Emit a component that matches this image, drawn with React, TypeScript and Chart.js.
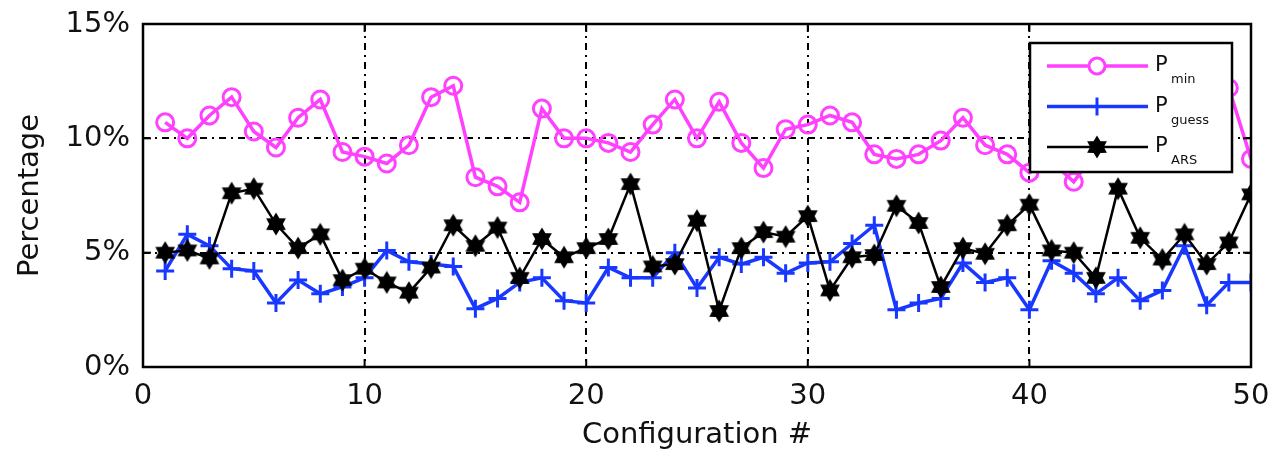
import React, { useEffect, useRef } from "react";
import { Chart, registerables } from "chart.js";

Chart.register(...registerables);

// ---- data ----
const configs = [
  1, 2, 3, 4, 5, 6, 7, 8, 9, 10,
  11, 12, 13, 14, 15, 16, 17, 18, 19, 20,
  21, 22, 23, 24, 25, 26, 27, 28, 29, 30,
  31, 32, 33, 34, 35, 36, 37, 38, 39, 40,
  41, 42, 43, 44, 45, 46, 47, 48, 49, 50,
];
const pMin = [
  10.7, 10.0, 11.0, 11.8, 10.3, 9.6, 10.9, 11.7, 9.4, 9.2,
  8.9, 9.7, 11.8, 12.3, 8.3, 7.9, 7.2, 11.3, 10.0, 10.0,
  9.8, 9.4, 10.6, 11.7, 10.0, 11.6, 9.8, 8.7, 10.4, 10.6,
  11.0, 10.7, 9.3, 9.1, 9.3, 9.9, 10.9, 9.7, 9.3, 8.5,
  9.0, 8.1, 9.4, 10.2, 9.6, 10.4, 9.8, 10.9, 12.2, 9.1,
];
const pGuess = [
  4.2, 5.8, 5.3, 4.3, 4.2, 2.8, 3.8, 3.2, 3.5, 3.9,
  5.1, 4.6, 4.5, 4.4, 2.55, 3.0, 3.7, 3.9, 2.9, 2.8,
  4.35, 3.9, 3.9, 5.0, 3.45, 4.8, 4.5, 4.8, 4.1, 4.55,
  4.6, 5.4, 6.2, 2.5, 2.8, 3.0, 4.55, 3.7, 3.9, 2.5,
  4.65, 4.1, 3.2, 3.9, 2.9, 3.35, 5.3, 2.7, 3.7, 3.7,
];
const pArs = [
  5.0, 5.1, 4.75, 7.6, 7.8, 6.25, 5.2, 5.8, 3.8, 4.3,
  3.7, 3.25, 4.35, 6.2, 5.3, 6.1, 3.9, 5.6, 4.8, 5.2,
  5.6, 8.0, 4.4, 4.5, 6.4, 2.45, 5.2, 5.9, 5.7, 6.6,
  3.35, 4.8, 4.9, 7.05, 6.3, 3.5, 5.2, 4.95, 6.2, 7.1,
  5.1, 5.0, 3.9, 7.8, 5.65, 4.7, 5.8, 4.5, 5.45, 7.55,
];
const xTicks = [0, 10, 20, 30, 40, 50];
const yTicks = [0, 5, 10, 15];
const legendMain = "P";
const legendSubs = ["min", "guess", "ARS"];
const xTitle = "Configuration #";
const yTitle = "Percentage";

// ---- styles ----
const MAGENTA = "rgb(255,64,255)";
const BLUE = "rgb(24,56,255)";
const BLACK = "#000";
const TEXT = "#111";
const FONT = "'DejaVu Sans', 'Liberation Sans', sans-serif";

function makeHexagram(r: number, ri: number, color: string): HTMLCanvasElement {
  const size = Math.ceil(r * 2 + 4);
  const c = document.createElement("canvas");
  c.width = size;
  c.height = size;
  const ctx = c.getContext("2d")!;
  ctx.translate(size / 2, size / 2);
  ctx.beginPath();
  for (let k = 0; k < 12; k++) {
    const a = -Math.PI / 2 + (k * Math.PI) / 6;
    const rr = k % 2 === 0 ? r : ri;
    ctx.lineTo(rr * Math.cos(a), rr * Math.sin(a));
  }
  ctx.closePath();
  ctx.fillStyle = color;
  ctx.fill();
  ctx.strokeStyle = color;
  ctx.lineWidth = 1.5;
  ctx.stroke();
  return c;
}

export default function App() {
  const ref = useRef<HTMLCanvasElement | null>(null);

  useEffect(() => {
    if (!ref.current) return;
    const hex = makeHexagram(10, 6, BLACK);

    const framePlugin = {
      id: "matlabFrame",
      afterDatasetsDraw(chart: any) {
        const { ctx, chartArea, scales } = chart;
        const { left, right, top, bottom } = chartArea;
        const x = scales.x;
        const y = scales.y;
        ctx.save();
        ctx.setLineDash([]);
        ctx.strokeStyle = BLACK;
        ctx.lineWidth = 2.5;
        ctx.strokeRect(left, top, right - left, bottom - top);
        const seg = (a: number, b: number, c: number, d: number) => {
          ctx.beginPath();
          ctx.moveTo(a, b);
          ctx.lineTo(c, d);
          ctx.stroke();
        };
        ctx.lineWidth = 2;
        for (const v of xTicks) {
          const px = x.getPixelForValue(v);
          seg(px, bottom, px, bottom - 8);
          seg(px, top, px, top + 8);
        }
        for (const v of yTicks) {
          const py = y.getPixelForValue(v);
          seg(left, py, left + 8, py);
          seg(right, py, right - 8, py);
        }

        // legend box
        const bw = 202;
        const bh = 129;
        const bx0 = right - 19 - bw;
        const by0 = top + 19;
        ctx.fillStyle = "#fff";
        ctx.fillRect(bx0, by0, bw, bh);
        ctx.lineWidth = 2.5;
        ctx.strokeStyle = BLACK;
        ctx.strokeRect(bx0, by0, bw, bh);

        const colors = [MAGENTA, BLUE, BLACK];
        const widths = [3.5, 3.5, 2.5];
        for (let i = 0; i < 3; i++) {
          const ry = by0 + 23 + i * 40.5;
          const lx0 = bx0 + 17;
          const lx1 = bx0 + 118;
          const mx = bx0 + 67;
          ctx.strokeStyle = colors[i];
          ctx.lineWidth = widths[i];
          seg(lx0, ry, lx1, ry);
          if (i === 0) {
            ctx.lineWidth = 3;
            ctx.beginPath();
            ctx.arc(mx, ry, 8, 0, Math.PI * 2);
            ctx.fillStyle = "#fff";
            ctx.fill();
            ctx.stroke();
          } else if (i === 1) {
            ctx.lineWidth = 3;
            seg(mx - 9, ry, mx + 9, ry);
            seg(mx, ry - 9, mx, ry + 9);
          } else {
            ctx.drawImage(hex, mx - hex.width / 2, ry - hex.height / 2);
          }
          ctx.fillStyle = TEXT;
          ctx.textAlign = "left";
          ctx.textBaseline = "alphabetic";
          ctx.font = `21px ${FONT}`;
          ctx.fillText(legendMain, bx0 + 125, ry + 5);
          ctx.font = `13px ${FONT}`;
          ctx.fillText(legendSubs[i], bx0 + 141, ry + 17);
        }
        ctx.restore();
      },
    };

    const chart = new Chart(ref.current, {
      type: "line",
      data: {
        datasets: [
          {
            label: "Pmin",
            data: configs.map((c, i) => ({ x: c, y: pMin[i] })),
            borderColor: MAGENTA,
            borderWidth: 3.5,
            pointStyle: "circle",
            pointRadius: 8.5,
            pointBorderWidth: 3,
            pointBorderColor: MAGENTA,
            pointBackgroundColor: "rgba(255,255,255,0)",
            tension: 0,
            order: 3,
          },
          {
            label: "Pguess",
            data: configs.map((c, i) => ({ x: c, y: pGuess[i] })),
            borderColor: BLUE,
            borderWidth: 3.5,
            pointStyle: "cross",
            pointRadius: 9,
            pointBorderWidth: 3,
            pointBorderColor: BLUE,
            pointBackgroundColor: BLUE,
            tension: 0,
            order: 2,
          },
          {
            label: "PARS",
            data: configs.map((c, i) => ({ x: c, y: pArs[i] })),
            borderColor: BLACK,
            borderWidth: 2.5,
            pointStyle: hex as any,
            pointRadius: 10,
            tension: 0,
            order: 1,
          },
        ],
      },
      options: {
        animation: false,
        responsive: true,
        maintainAspectRatio: false,
        events: [],
        layout: { padding: { top: 24, right: 19, left: 0, bottom: 0 } },
        plugins: {
          legend: { display: false },
          tooltip: { enabled: false },
        },
        scales: {
          x: {
            type: "linear",
            min: 0,
            max: 50,
            afterFit: (s: any) => {
              s.height = 87;
              s.paddingLeft = 0;
              s.paddingRight = 0;
            },
            afterBuildTicks: (s: any) => {
              s.ticks = xTicks.map((v) => ({ value: v }));
            },
            ticks: {
              color: TEXT,
              font: { family: FONT, size: 29 },
              padding: 12,
              maxRotation: 0,
              autoSkip: false,
            },
            grid: {
              color: BLACK,
              lineWidth: 2,
              drawTicks: false,
            },
            border: { display: false, dash: [7, 5, 2, 5] },
            title: {
              display: true,
              text: xTitle,
              color: TEXT,
              font: { family: FONT, size: 29 },
              padding: { top: 0, bottom: 1 },
            },
          },
          y: {
            type: "linear",
            min: 0,
            max: 15,
            afterFit: (s: any) => {
              s.width = 143;
              s.paddingTop = 0;
              s.paddingBottom = 0;
            },
            afterBuildTicks: (s: any) => {
              s.ticks = yTicks.map((v) => ({ value: v }));
            },
            ticks: {
              color: TEXT,
              font: { family: FONT, size: 29 },
              padding: 13,
              callback: (v: any) => `${v}%`,
            },
            grid: {
              color: BLACK,
              lineWidth: 2,
              drawTicks: false,
            },
            border: { display: false, dash: [7, 5, 2, 5] },
            title: {
              display: true,
              text: yTitle,
              color: TEXT,
              font: { family: FONT, size: 29 },
              padding: { top: 13, bottom: 0 },
            },
          },
        },
      },
      plugins: [framePlugin],
    });
    return () => chart.destroy();
  }, []);

  return (
    <div
      style={{
        position: "absolute",
        left: 0,
        top: 0,
        width: 1270,
        height: 454,
        background: "#fff",
      }}
    >
      <canvas ref={ref} />
    </div>
  );
}
